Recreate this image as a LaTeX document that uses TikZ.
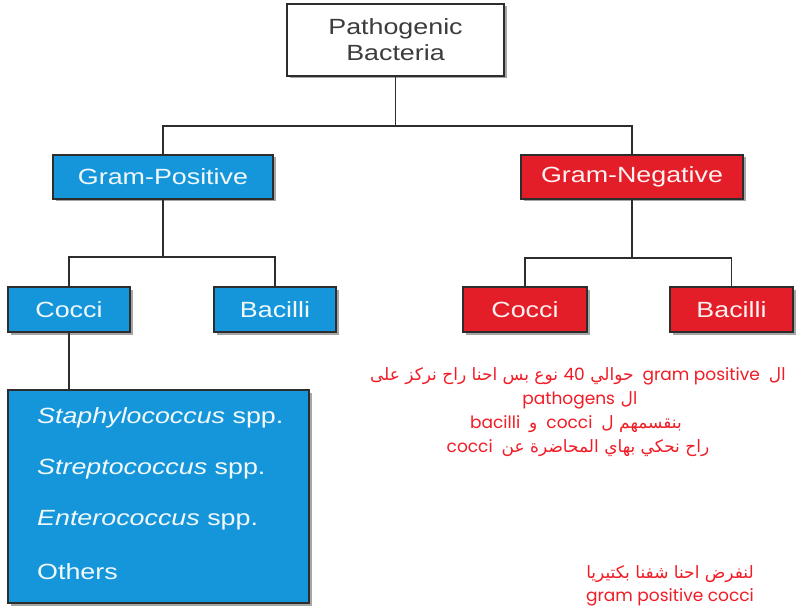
\documentclass[tikz,border=0pt]{standalone}
\usepackage{fontspec}
\usetikzlibrary{shadows}
\TeXXeTstate=1
\newfontfamily\boxfont{Liberation Sans}[FakeStretch=1.22]
\newfontfamily\arabicfont[Script=Arabic]{DejaVu Sans}
\newfontfamily\latinfont{Poppins}
\definecolor{gpblue}{RGB}{22,150,218}
\definecolor{gnred}{RGB}{228,30,40}
\definecolor{edgec}{RGB}{45,45,45}
\definecolor{notec}{RGB}{240,28,38}
\definecolor{toptext}{RGB}{60,60,60}
\tikzset{
  bx/.style={draw=edgec, line width=1.7pt, inner sep=0pt,
    font=\boxfont\fontsize{22}{26}\selectfont,
    drop shadow={shadow xshift=2.5pt, shadow yshift=-2.5pt, opacity=0.35, fill=black}},
  plainbx/.style={bx, fill=white, text=toptext, align=center},
  bluebx/.style={bx, fill=gpblue, text=white!94!gpblue},
  redbx/.style={bx, fill=gnred, text=white!94!gnred},
  lnk/.style={draw=edgec, line width=1.8pt},
  listitem/.style={anchor=west, inner sep=0pt, text=white!94!gpblue,
    font=\boxfont\fontsize{22}{26}\selectfont},
  notetext/.style={inner sep=0pt, text=notec,
    font=\arabicfont\fontsize{17}{22}\selectfont},
}
\begin{document}
\begin{tikzpicture}[x=1pt,y=-1pt]
\fill[white] (0,0) rectangle (796,607);
\useasboundingbox (0,0) rectangle (796,607);

% nodes
\node[plainbx, minimum width=217pt, minimum height=72pt] (top) at (395.5,40) {Pathogenic\\Bacteria};
\node[bluebx, minimum width=220pt, minimum height=44pt] (gp) at (163,177) {Gram-Positive};
\node[redbx, minimum width=222pt, minimum height=44pt] (gn) at (632,177) {Gram-Negative};
\node[bluebx, minimum width=122pt, minimum height=45pt] (gpc) at (69,309.5) {Cocci};
\node[bluebx, minimum width=122pt, minimum height=45pt] (gpb) at (275,309.5) {Bacilli};
\node[redbx, minimum width=124pt, minimum height=45pt] (gnc) at (525,309.5) {Cocci};
\node[redbx, minimum width=123pt, minimum height=45pt] (gnb) at (731.5,309.5) {Bacilli};
\node[bluebx, minimum width=301pt, minimum height=213pt] (list) at (158.5,496.5) {};

\node[listitem] (l1) at (37,418) {\itshape Staphylococcus\upshape{} spp.};
\node[listitem] (l2) at (37,469) {\itshape Streptococcus\upshape{} spp.};
\node[listitem] (l3) at (37,520) {\itshape Enterococcus\upshape{} spp.};
\node[listitem] (l4) at (37,572) {Others};

% connectors
\coordinate (j1) at (395.5,126);
\draw[lnk] (top.south) -- (j1);
\draw[lnk] (gp.north) |- (j1) -| (gn.north);
\coordinate (j2) at (163,257);
\draw[lnk] (gp.south) -- (j2);
\draw[lnk] (gpc.north) |- (j2) -| (gpb.north);
\coordinate (j3) at (632,258);
\draw[lnk] (gn.south) -- (j3);
\draw[lnk] (gnc.north) |- (j3) -| (gnb.north);
\draw[lnk] (gpc.south) -- (gpc.south |- list.north);

% notes
\node[notetext] (n1) at (578,376) {\beginR ال\hspace{9pt}\beginL{\latinfont gram positive}\endL\hspace{9pt}حوالي {\latinfont 40} نوع بس احنا راح نركز على\endR};
\node[notetext] (n2) at (580,400) {\beginR ال {\latinfont pathogens}\endR};
\node[notetext] (n3) at (576,424) {\beginR بنقسمهم ل\hspace{9pt}{\latinfont cocci}\hspace{9pt}و\hspace{9pt}{\latinfont bacilli}\endR};
\node[notetext] (n4) at (578,448) {\beginR راح نحكي بهاي المحاضرة عن\hspace{9pt}{\latinfont cocci}\endR};
\node[notetext] (n5) at (670,574) {\beginR لنفرض احنا شفنا بكتيريا\endR};
\node[notetext] (n6) at (670,597) {\latinfont gram positive cocci};
\end{tikzpicture}
\end{document}
